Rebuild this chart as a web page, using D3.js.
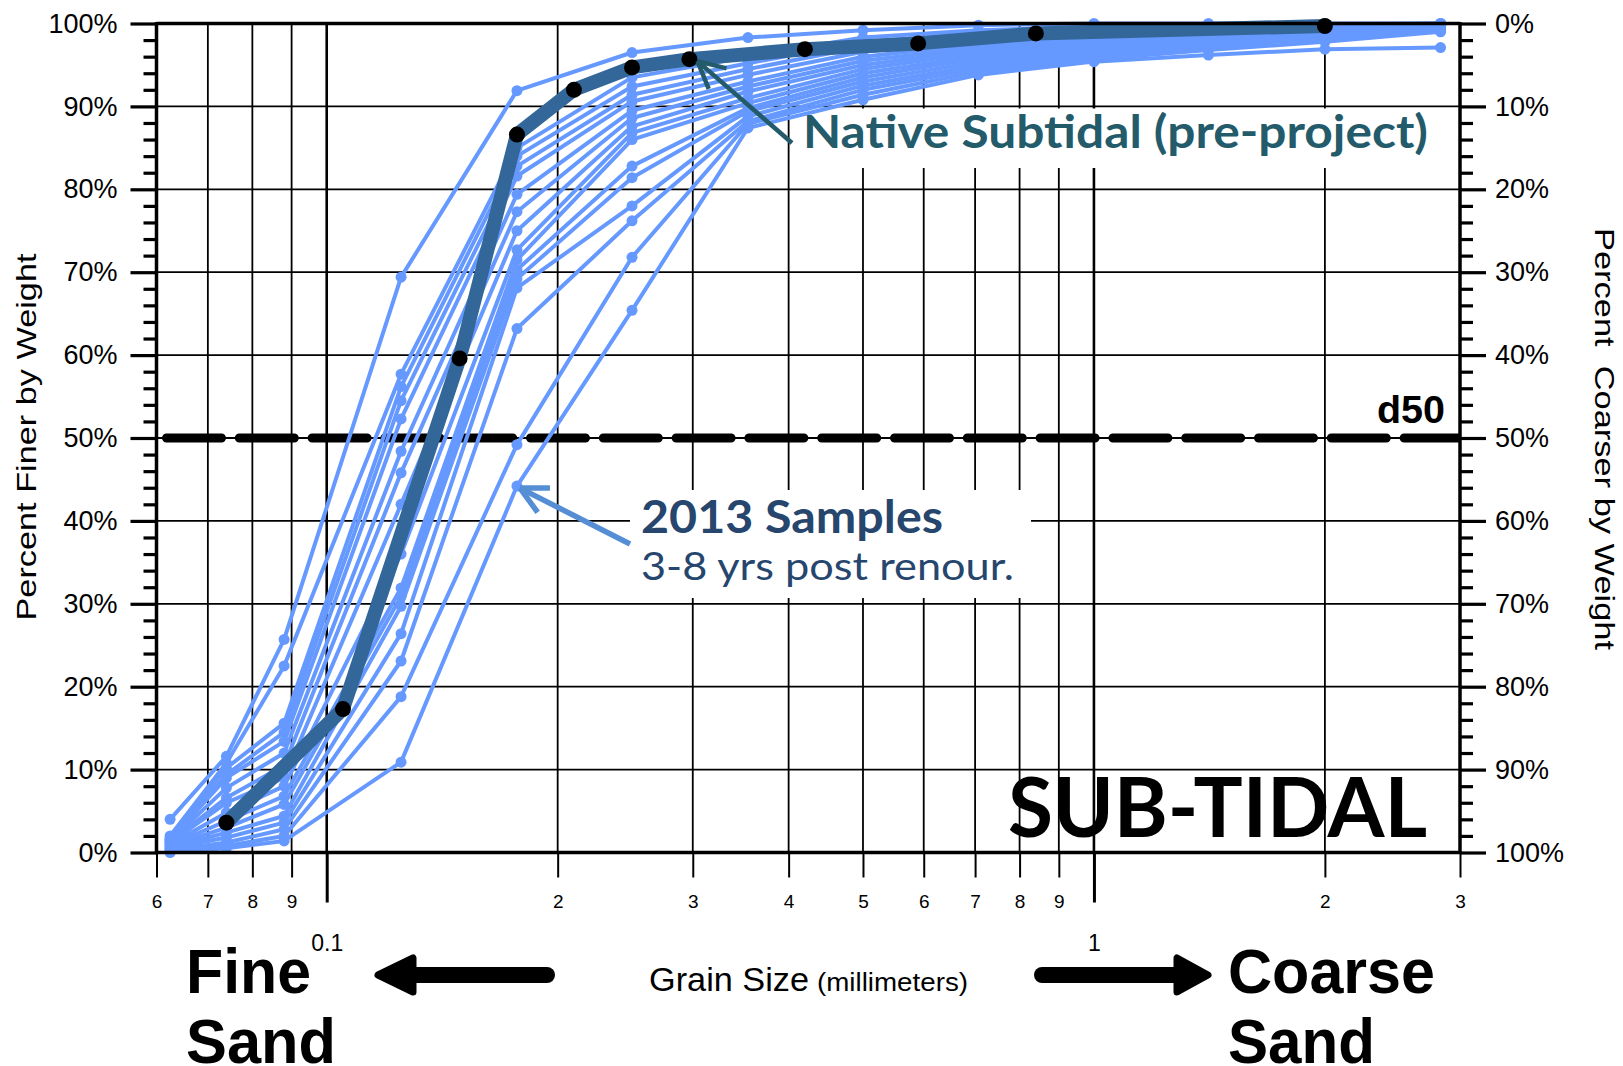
<!DOCTYPE html>
<html><head><meta charset="utf-8">
<script src="https://cdn.jsdelivr.net/npm/d3@7"></script>
<style>
body{margin:0;background:#fff;}
svg{display:block;}
</style></head><body>
<svg id="c" width="1623" height="1066"></svg>
<script>
// ---------------- DATA ----------------
const sieveSizes = [0.0625, 0.074, 0.088, 0.125, 0.177, 0.25, 0.354, 0.5, 0.707, 1.0, 1.41, 2.0, 2.83];
const sample01 = [4.0, 11.6, 25.7, 69.4, 91.9, 96.5, 98.3, 99.2, 99.8, 100, 100, 100, 100];
const sample02 = [2.0, 10.8, 22.5, 57.7, 85.0, 93.5, 96.0, 98.3, 99.2, 99.6, 99.8, 99.9, 100];
const sample03 = [1.8, 10.2, 15.6, 56.2, 84.0, 92.4, 95.2, 97.8, 98.8, 99.3, 99.6, 99.8, 100];
const sample04 = [1.6, 9.4, 14.5, 54.5, 82.8, 91.4, 94.5, 97.2, 98.3, 99.0, 99.4, 99.7, 99.9];
const sample05 = [1.5, 9.0, 13.4, 52.3, 81.6, 90.6, 93.8, 96.6, 97.9, 98.7, 99.2, 99.6, 99.9];
const sample06 = [1.4, 7.8, 12.0, 48.4, 79.4, 89.5, 93.0, 96.0, 97.5, 98.4, 99.0, 99.5, 99.8];
const sample07 = [1.3, 6.6, 10.5, 45.8, 77.3, 88.6, 92.4, 95.5, 97.1, 98.1, 98.8, 99.4, 99.8];
const sample08 = [1.2, 6.0, 9.0, 42.0, 75.0, 87.6, 91.8, 95.0, 96.8, 97.8, 98.6, 99.3, 99.7];
const sample09 = [1.0, 4.8, 8.0, 36.0, 72.7, 86.8, 91.0, 94.5, 96.5, 97.5, 98.4, 99.2, 99.7];
const sample10 = [0.9, 3.8, 6.8, 31.9, 71.5, 86.0, 90.4, 94.0, 96.1, 97.2, 98.2, 99.0, 99.6];
const sample11 = [0.8, 3.0, 5.8, 30.9, 70.3, 82.8, 89.8, 93.5, 95.8, 96.9, 98.0, 98.9, 99.5];
const sample12 = [0.6, 2.4, 4.4, 29.7, 69.2, 81.4, 89.4, 93.0, 95.4, 96.6, 97.8, 98.7, 99.4];
const sample13 = [0.5, 1.8, 3.6, 26.4, 68.1, 78.0, 88.8, 92.5, 95.0, 96.3, 97.5, 98.5, 99.3];
const sample14 = [0.3, 1.2, 2.8, 23.1, 63.2, 76.2, 88.2, 92.0, 94.6, 96.0, 97.2, 98.2, 99.2];
const sample15 = [0.2, 0.8, 2.0, 18.8, 49.2, 71.8, 87.9, 91.4, 94.2, 95.7, 96.8, 97.8, 99.0];
const sample16 = [0.0, 0.5, 1.4, 10.9, 44.2, 65.4, 87.4, 90.8, 93.8, 95.4, 96.2, 96.9, 97.1];
const samples2013 = [sample01, sample02, sample03, sample04, sample05, sample06, sample07, sample08,
                     sample09, sample10, sample11, sample12, sample13, sample14, sample15, sample16];

const nativeSizes = [0.074, 0.105, 0.149, 0.177, 0.21, 0.25, 0.297, 0.42, 0.59, 0.84, 2.0];
const nativeFiner = [3.6, 17.3, 59.6, 86.6, 92.0, 94.7, 95.7, 96.9, 97.6, 98.8, 99.7];

const xMinorTicks  = [0.06, 0.07, 0.08, 0.09, 0.2, 0.3, 0.4, 0.5, 0.6, 0.7, 0.8, 0.9, 2, 3];
const xMinorLabels = ["6", "7", "8", "9", "2", "3", "4", "5", "6", "7", "8", "9", "2", "3"];
const xMajorTicks  = [0.1, 1];
const xMajorLabels = ["0.1", "1"];
const yMajorTicks  = [0, 10, 20, 30, 40, 50, 60, 70, 80, 90, 100];
const yMinorTicks  = [2,4,6,8,12,14,16,18,22,24,26,28,32,34,36,38,42,44,46,48,52,54,56,58,62,64,66,68,72,74,76,78,82,84,86,88,92,94,96,98];
const d50Value = 50;

// ---------------- LAYOUT ----------------
const L = 156.5, R = 1460, T = 23.5, B = 852.5;
const FONT = "'Liberation Sans', Arial, Helvetica, sans-serif";
const CAL = "Lato, 'Open Sans', sans-serif";
const svg = d3.select("#c");

const x = d3.scaleLog().domain([0.06, 3]).range([L, R]);
const y = d3.scaleLinear().domain([0, 100]).range([B, T]);
const yC = d3.scaleLinear().domain([0, 100]).range([T, B]); // percent coarser

// grid
const grid = svg.append("g");
xMinorTicks.filter(d => d > 0.06 && d < 3).forEach(d => {
  grid.append("line").attr("x1", x(d)).attr("x2", x(d)).attr("y1", T).attr("y2", B)
    .attr("stroke", "#000").attr("stroke-width", 1.8);
});
xMajorTicks.forEach(d => {
  grid.append("line").attr("x1", x(d)).attr("x2", x(d)).attr("y1", T).attr("y2", B)
    .attr("stroke", "#000").attr("stroke-width", 2.6);
});
yMajorTicks.filter(d => d > 0 && d < 100).forEach(d => {
  grid.append("line").attr("x1", L).attr("x2", R).attr("y1", y(d)).attr("y2", y(d))
    .attr("stroke", "#000").attr("stroke-width", 1.8);
});

// white label boxes
svg.append("rect").attr("x", 795).attr("y", 108.5).attr("width", 650).attr("height", 59.5).attr("fill", "#fff");
svg.append("rect").attr("x", 630).attr("y", 490).attr("width", 401).attr("height", 108).attr("fill", "#fff");

// d50 line
svg.append("clipPath").attr("id", "pc").append("rect").attr("x", L).attr("y", T - 20).attr("width", R - L).attr("height", B - T + 40);
svg.append("line").attr("x1", L).attr("x2", R).attr("y1", y(d50Value)).attr("y2", y(d50Value))
  .attr("stroke", "#000").attr("stroke-width", 2.2);
svg.append("line").attr("x1", L + 10).attr("x2", R + 10).attr("y1", y(d50Value)).attr("y2", y(d50Value))
  .attr("clip-path", "url(#pc)")
  .attr("stroke", "#000").attr("stroke-width", 9).attr("stroke-linecap", "round")
  .attr("stroke-dasharray", "55 17.8");

// 2013 samples
const lineGen = d3.line().x(d => x(d[0])).y(d => y(d[1]));
const light = "#6699ff";
samples2013.forEach(s => {
  const pts = s.map((v, i) => [sieveSizes[i], v]);
  svg.append("path").attr("d", lineGen(pts)).attr("fill", "none")
    .attr("stroke", light).attr("stroke-width", 4).attr("stroke-linejoin", "round");
  svg.append("g").selectAll("circle").data(pts).join("circle")
    .attr("cx", d => x(d[0])).attr("cy", d => y(d[1])).attr("r", 5.5).attr("fill", light);
});

// native
const nat = nativeSizes.map((d, i) => [d, nativeFiner[i]]);
svg.append("path").attr("d", lineGen(nat)).attr("fill", "none")
  .attr("stroke", "#336699").attr("stroke-width", 14).attr("stroke-linejoin", "round");
svg.append("g").selectAll("circle").data(nat).join("circle")
  .attr("cx", d => x(d[0])).attr("cy", d => y(d[1])).attr("r", 8).attr("fill", "#000");

// frame lines
const frame = svg.append("g").attr("stroke", "#000").attr("stroke-width", 3.5);
frame.append("line").attr("x1", L).attr("x2", R).attr("y1", T).attr("y2", T);
frame.append("line").attr("x1", L - 1.5).attr("x2", R + 1.5).attr("y1", B).attr("y2", B);
frame.append("line").attr("x1", L).attr("x2", L).attr("y1", T - 1.5).attr("y2", B + 1.5);
frame.append("line").attr("x1", R).attr("x2", R).attr("y1", T - 1.5).attr("y2", B + 1.5);

// axes
function styleAxis(g, sw, fs) {
  g.select(".domain").remove();
  g.selectAll(".tick line").attr("stroke", "#000").attr("stroke-width", sw);
  g.selectAll(".tick text").attr("fill", "#000").attr("font-family", FONT).attr("font-size", fs);
}
const gxMin = svg.append("g").attr("transform", `translate(0,${B})`)
  .call(d3.axisBottom(x).tickValues(xMinorTicks).tickFormat((d, i) => xMinorLabels[i]).tickSize(25).tickPadding(17));
styleAxis(gxMin, 2, 19);
const gxMaj = svg.append("g").attr("transform", `translate(0,${B})`)
  .call(d3.axisBottom(x).tickValues(xMajorTicks).tickFormat((d, i) => xMajorLabels[i]).tickSize(50).tickPadding(32));
styleAxis(gxMaj, 3, 23);

const gyL = svg.append("g").attr("transform", `translate(${L},0)`)
  .call(d3.axisLeft(y).tickValues(yMajorTicks).tickFormat(d => d + "%").tickSize(26).tickPadding(13));
styleAxis(gyL, 3.2, 27);
const gyLm = svg.append("g").attr("transform", `translate(${L},0)`)
  .call(d3.axisLeft(y).tickValues(yMinorTicks).tickFormat("").tickSize(13));
styleAxis(gyLm, 3.2, 27);

const gyR = svg.append("g").attr("transform", `translate(${R},0)`)
  .call(d3.axisRight(yC).tickValues(yMajorTicks).tickFormat(d => d + "%").tickSize(26).tickPadding(9));
styleAxis(gyR, 3.2, 27);
const gyRm = svg.append("g").attr("transform", `translate(${R},0)`)
  .call(d3.axisRight(yC).tickValues(yMinorTicks).tickFormat("").tickSize(13));
styleAxis(gyRm, 3.2, 27);

// axis titles
svg.append("text").attr("transform", "translate(36,437) rotate(-90)")
  .attr("text-anchor", "middle").attr("font-family", FONT).attr("font-size", 28)
  .attr("textLength", 367).attr("lengthAdjust", "spacingAndGlyphs")
  .text("Percent Finer by Weight");
svg.append("text").attr("transform", "translate(1595,439) rotate(90)")
  .attr("text-anchor", "middle").attr("font-family", FONT).attr("font-size", 28)
  .attr("textLength", 422).attr("lengthAdjust", "spacingAndGlyphs")
  .style("white-space", "pre")
  .text("Percent  Coarser by Weight");

function txt(str, xx, yy, fs, weight, len, fam, col, anchor) {
  const t = svg.append("text").attr("x", xx).attr("y", yy).attr("font-family", fam || FONT)
    .attr("font-size", fs).attr("font-weight", weight).attr("fill", col || "#000")
    .attr("text-anchor", anchor || "start").text(str);
  if (len) t.attr("textLength", len).attr("lengthAdjust", "spacingAndGlyphs");
  return t;
}
txt("Grain Size", 649, 991, 33, 400, 160);
txt("(millimeters)", 817, 991, 25, 400, 151);
txt("Fine", 186, 993, 63, 700, 125);
txt("Sand", 186, 1063, 63, 700, 150);
txt("Coarse", 1228, 993, 63, 700, 207);
txt("Sand", 1228, 1063, 63, 700, 147);
txt("d50", 1377, 423, 39, 700, 68);
txt("SUB-TIDAL", 1008, 837, 83, 700, 419, CAL);
txt("Native Subtidal (pre-project)", 803, 148, 46, 700, 625, CAL, "#235b6b");
txt("2013 Samples", 641, 533, 46, 700, 302, CAL, "#26466d");
txt("3-8 yrs post renour.", 641, 580, 39, 400, 373, CAL, "#26466d");

// big arrows
svg.append("line").attr("x1", 547).attr("x2", 410).attr("y1", 975).attr("y2", 975)
  .attr("stroke", "#000").attr("stroke-width", 16).attr("stroke-linecap", "round");
svg.append("polygon").attr("points", "378,975 413,958 413,992")
  .attr("fill", "#000").attr("stroke", "#000").attr("stroke-width", 7).attr("stroke-linejoin", "round");
svg.append("line").attr("x1", 1042).attr("x2", 1182).attr("y1", 975).attr("y2", 975)
  .attr("stroke", "#000").attr("stroke-width", 16).attr("stroke-linecap", "round");
svg.append("polygon").attr("points", "1208,975 1177,958 1177,992")
  .attr("fill", "#000").attr("stroke", "#000").attr("stroke-width", 7).attr("stroke-linejoin", "round");

// annotation arrows
function arrow(tail, tip, headLen, headDeg, color, w) {
  const ang = Math.atan2(tail[1] - tip[1], tail[0] - tip[0]);
  const a = headDeg * Math.PI / 180;
  const g = svg.append("g").attr("stroke", color).attr("stroke-width", w).attr("stroke-linecap", "butt").attr("fill", "none");
  g.append("line").attr("x1", tail[0]).attr("y1", tail[1]).attr("x2", tip[0]).attr("y2", tip[1]);
  [ang - a, ang + a].forEach(b => {
    g.append("line").attr("x1", tip[0]).attr("y1", tip[1])
      .attr("x2", tip[0] + headLen * Math.cos(b)).attr("y2", tip[1] + headLen * Math.sin(b));
  });
}
arrow([792, 143], [x(0.297) + 8, y(95.7) + 2], 30, 27, "#235b6b", 4.5);
arrow([630, 544], [x(0.177) + 3, y(44.2) + 2], 30, 27, "#558ed5", 5.5);
</script>
</body></html>
